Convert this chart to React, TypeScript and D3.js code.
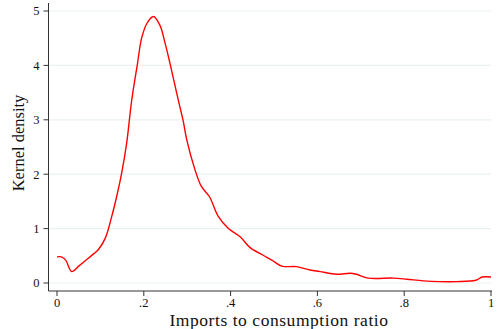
import React from "react";
import * as d3 from "d3";

// Kernel density estimate of the imports-to-consumption ratio
const ratio = [0, 0.01, 0.02, 0.034, 0.05, 0.07, 0.085, 0.095, 0.111, 0.126, 0.1375, 0.149, 0.1605, 0.172, 0.185, 0.195, 0.207, 0.222, 0.237, 0.249, 0.26, 0.2795, 0.291, 0.299, 0.318, 0.333, 0.351, 0.372, 0.395, 0.422, 0.445, 0.475, 0.495, 0.518, 0.552, 0.583, 0.606, 0.644, 0.675, 0.69, 0.717, 0.775, 0.806, 0.844, 0.882, 0.921, 0.965, 0.98, 1.0];
const density = [0.48, 0.48, 0.42, 0.21, 0.31, 0.44, 0.54, 0.61, 0.82, 1.22, 1.59, 2.02, 2.57, 3.35, 4.01, 4.5, 4.77, 4.9, 4.74, 4.41, 4.05, 3.36, 2.97, 2.63, 2.08, 1.77, 1.59, 1.22, 1.0, 0.85, 0.65, 0.51, 0.42, 0.31, 0.3, 0.24, 0.21, 0.16, 0.18, 0.16, 0.09, 0.09, 0.07, 0.04, 0.025, 0.025, 0.05, 0.11, 0.11];

const xTicks = [0, 0.2, 0.4, 0.6, 0.8, 1];
const xTickLabels = ["0", ".2", ".4", ".6", ".8", "1"];
const yTicks = [0, 1, 2, 3, 4, 5];

const W = 498;
const H = 329;
const FONT = "Liberation Serif, DejaVu Serif, serif";

export default function App() {
  const x = d3.scaleLinear().domain([0, 1]).range([57, 491]);
  const y = d3.scaleLinear().domain([0, 5]).range([283, 11]);
  const axisX = 48.5;
  const axisY = 291;

  const pts = ratio.map((r, i) => [r, density[i]] as [number, number]);
  const line = d3
    .line<[number, number]>()
    .x((d) => x(d[0]))
    .y((d) => y(d[1]))
    .curve(d3.curveCatmullRom.alpha(0.5));

  const txt = { fontFamily: FONT, fill: "#111" };

  return (
    <svg
      width={W}
      height={H}
      style={{ position: "absolute", left: 0, top: 0, background: "#fff" }}
    >
      {/* horizontal grid */}
      {yTicks.map((t) => (
        <line key={"g" + t} x1={axisX} x2={491} y1={y(t)} y2={y(t)} stroke="#eaf2f3" strokeWidth={1.2} />
      ))}

      {/* density curve */}
      <path d={line(pts) || ""} fill="none" stroke="#ff0000" strokeWidth={1.4} />

      {/* y axis */}
      <line x1={axisX} x2={axisX} y1={3} y2={axisY} stroke="#333" strokeWidth={1} />
      {yTicks.map((t) => (
        <g key={"y" + t}>
          <line x1={axisX - 5} x2={axisX} y1={y(t)} y2={y(t)} stroke="#333" strokeWidth={1} />
          <text x={axisX - 9} y={y(t)} dy="0.35em" textAnchor="end" fontSize={12.5} style={txt}>
            {t}
          </text>
        </g>
      ))}

      {/* x axis */}
      <line x1={axisX} x2={492} y1={axisY} y2={axisY} stroke="#333" strokeWidth={1} />
      {xTicks.map((t, i) => (
        <g key={"x" + t}>
          <line x1={x(t)} x2={x(t)} y1={axisY} y2={axisY + 5} stroke="#333" strokeWidth={1} />
          <text x={x(t)} y={307} textAnchor="middle" fontSize={12.5} style={txt}>
            {xTickLabels[i]}
          </text>
        </g>
      ))}

      <text x={279} y={326} textAnchor="middle" fontSize={17.5} letterSpacing={0.55} style={txt}>
        Imports to consumption ratio
      </text>
      <text
        transform={`translate(24, 143) rotate(-90)`}
        textAnchor="middle"
        fontSize={16.5}
        style={txt}
      >
        Kernel density
      </text>
    </svg>
  );
}
